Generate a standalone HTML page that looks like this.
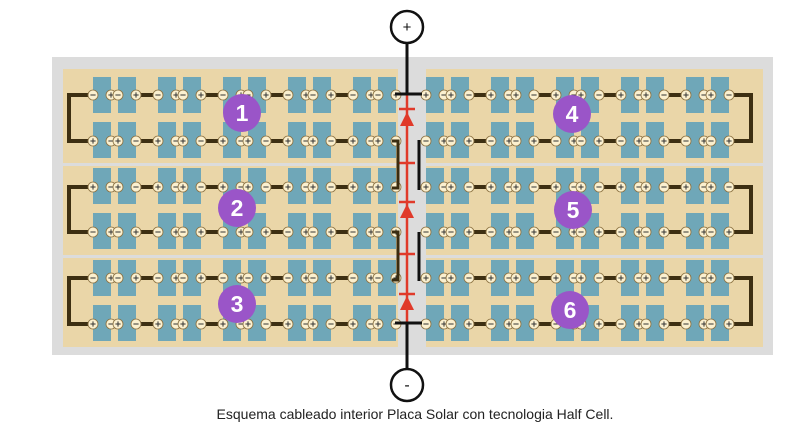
<!DOCTYPE html>
<html><head><meta charset="utf-8"><style>
html,body{margin:0;padding:0;background:#fff;width:810px;height:425px;overflow:hidden}
svg{display:block}
text{font-family:"Liberation Sans",sans-serif}
</style></head><body>
<svg id="s" width="810" height="425" viewBox="0 0 810 425" xmlns="http://www.w3.org/2000/svg">
<rect x="52" y="57" width="721" height="298" fill="#dcdcdc"/>
<rect x="63" y="69" width="335" height="94" fill="#ead6a8"/>
<rect x="63" y="166" width="335" height="89" fill="#ead6a8"/>
<rect x="63" y="258" width="335" height="89" fill="#ead6a8"/>
<rect x="426" y="69" width="337" height="94" fill="#ead6a8"/>
<rect x="426" y="166" width="337" height="89" fill="#ead6a8"/>
<rect x="426" y="258" width="337" height="89" fill="#ead6a8"/>
<g id="g"></g>
<g id="center">
<line x1="407" y1="93" x2="407" y2="323" stroke="#e03a2a" stroke-width="2.5"/>
<polygon points="400,126 414,126 407,112" fill="#e03a2a"/><line x1="399" y1="109" x2="415" y2="109" stroke="#e03a2a" stroke-width="2.5"/>
<polygon points="400,218 414,218 407,204" fill="#e03a2a"/><line x1="399" y1="202" x2="415" y2="202" stroke="#e03a2a" stroke-width="2.5"/>
<polygon points="400,310 414,310 407,296" fill="#e03a2a"/><line x1="399" y1="294" x2="415" y2="294" stroke="#e03a2a" stroke-width="2.5"/>
<line x1="399" y1="163" x2="415" y2="163" stroke="#e03a2a" stroke-width="2.5"/>
<line x1="399" y1="254" x2="415" y2="254" stroke="#e03a2a" stroke-width="2.5"/>
<g stroke="#111" stroke-width="3" fill="none">
<line x1="407" y1="43" x2="407" y2="94"/>
<line x1="395" y1="94" x2="422" y2="94"/>
<line x1="407" y1="323" x2="407" y2="370"/>
<line x1="395" y1="323" x2="422" y2="323"/>
<line x1="419" y1="140" x2="419" y2="190"/>
<line x1="419" y1="232" x2="419" y2="281"/>
</g>
<g stroke="#3a2c10" stroke-width="3" fill="none">
<polyline points="392,141 398,141 398,188 392,188"/>
<polyline points="392,232 398,232 398,280 392,280"/>
</g>
<circle cx="407" cy="27" r="16" fill="#fff" stroke="#111" stroke-width="2.5"/>
<text x="407" y="32" font-size="15" text-anchor="middle" fill="#111">+</text>
<circle cx="407" cy="385" r="16" fill="#fff" stroke="#111" stroke-width="2.5"/>
<text x="407" y="390" font-size="16" text-anchor="middle" fill="#111">-</text>
</g>
<g font-size="23" font-weight="bold" fill="#fff" text-anchor="middle">
<circle cx="242" cy="113" r="19" fill="#9a55c8"/><text x="242" y="121">1</text>
<circle cx="237" cy="208" r="19" fill="#9a55c8"/><text x="237" y="216">2</text>
<circle cx="237" cy="304" r="19" fill="#9a55c8"/><text x="237" y="312">3</text>
<circle cx="572" cy="114" r="19" fill="#9a55c8"/><text x="572" y="122">4</text>
<circle cx="573" cy="210" r="19" fill="#9a55c8"/><text x="573" y="218">5</text>
<circle cx="570" cy="310" r="19" fill="#9a55c8"/><text x="570" y="318">6</text>
</g>
<text x="415" y="419" font-size="14" text-anchor="middle" fill="#222">Esquema cableado interior Placa Solar con tecnologia Half Cell.</text>
</svg>
<script>
(function(){
var NS="http://www.w3.org/2000/svg",g=document.getElementById('g');
function el(t,a){var e=document.createElementNS(NS,t);for(var k in a)e.setAttribute(k,a[k]);g.appendChild(e);return e;}
var rows=[{top:77,y1:95,y2:141},{top:168,y1:187,y2:232},{top:260,y1:278,y2:324}];
var halves=[{xs:[93,158,223,288,353],side:'L'},{xs:[426,491,556,621,686],side:'R'}];
halves.forEach(function(h){rows.forEach(function(r){h.xs.forEach(function(x){
 [x,x+25].forEach(function(cx){
  el('rect',{x:cx,y:r.top,width:18,height:36,fill:'#6fa7b8'});
  el('rect',{x:cx,y:r.top+45,width:18,height:36,fill:'#6fa7b8'});
 });});});});
var W='#3d2f12';
halves.forEach(function(h){rows.forEach(function(r,ri){
 [r.y1,r.y2].forEach(function(y){
  for(var k=0;k<4;k++){el('line',{x1:h.xs[k]+43,y1:y,x2:h.xs[k+1],y2:y,stroke:W,'stroke-width':4});}
 });
 if(h.side=='L'){
  el('polyline',{points:(h.xs[0])+','+r.y1+' 69,'+r.y1+' 69,'+r.y2+' '+h.xs[0]+','+r.y2,fill:'none',stroke:W,'stroke-width':4});
 } else {
  var e=h.xs[4]+43;
  el('polyline',{points:e+','+r.y1+' 751,'+r.y1+' 751,'+r.y2+' '+e+','+r.y2,fill:'none',stroke:W,'stroke-width':4});
 }
 var p0=(h.side=='L')?((ri%2==0)?-1:1):1;
 [[r.y1,p0],[r.y2,-p0]].forEach(function(a){
  var y=a[0],p=a[1];
  h.xs.forEach(function(x){
   [[x,p],[x+18,-p],[x+25,p],[x+43,-p]].forEach(function(t){
    el('circle',{cx:t[0],cy:y,r:5,fill:'#fbf0cf',stroke:'#8a7040','stroke-width':0.8});
    el('line',{x1:t[0]-2.6,y1:y,x2:t[0]+2.6,y2:y,stroke:'#333','stroke-width':1});
    if(t[1]>0)el('line',{x1:t[0],y1:y-2.6,x2:t[0],y2:y+2.6,stroke:'#333','stroke-width':1});
   });
  });
 });
});});
})();
</script>
</body></html>
